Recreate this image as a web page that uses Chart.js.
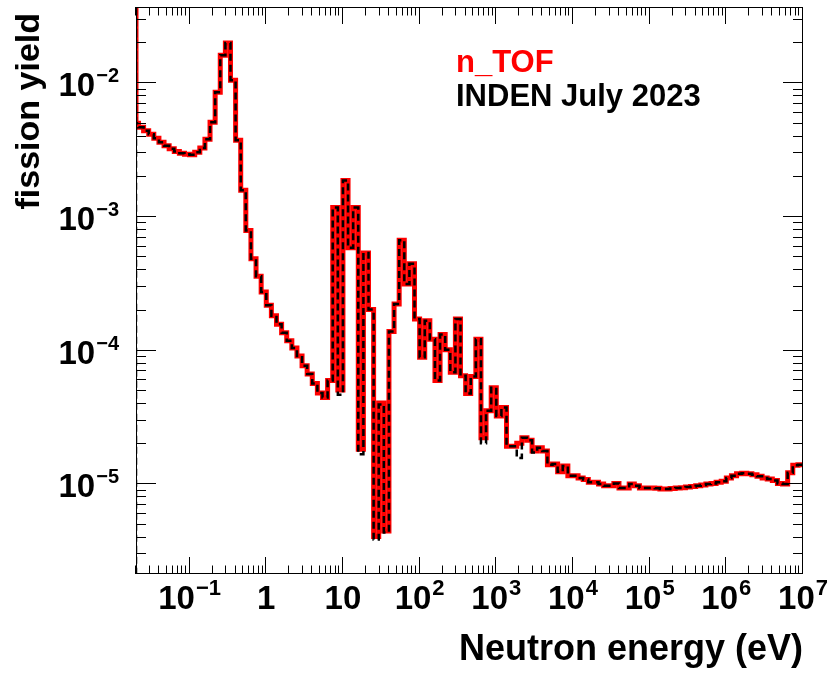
<!DOCTYPE html>
<html>
<head>
<meta charset="utf-8">
<script src="https://cdn.jsdelivr.net/npm/chart.js@4.4.0/dist/chart.umd.min.js"></script>
<style>
  html, body { margin: 0; padding: 0; background: #fff; }
  #wrap { width: 829px; height: 673px; }
</style>
</head>
<body>
<div id="wrap"><canvas id="yield-chart" width="829" height="673"></canvas></div>
<script>
// Histogram binning: 15 log bins per decade, first partial bin starts at 0.02 eV
const energyMin = 0.02;
const energyMax = 1e7;
const binsPerDecade = 15;
const firstEdgeIndex = -25;   // 10^(-25/15) eV
const lastEdgeIndex = 105;    // 10^(105/15) = 1e7 eV

// fission yield per bin, n_TOF
const ntofYield = [
  4.96e-3,
  4.63e-3, 4.35e-3, 4.09e-3, 3.82e-3, 3.57e-3, 3.36e-3, 3.19e-3, 3.05e-3, 2.95e-3, 2.90e-3,
  2.88e-3, 3.00e-3, 3.24e-3, 3.76e-3, 5.04e-3, 8.46e-3, 1.60e-2, 1.97e-2, 1.04e-2, 3.70e-3,
  1.56e-3, 7.8e-4, 4.8e-4, 3.55e-4, 2.7e-4,
  2.15e-4, 1.8e-4, 1.55e-4, 1.34e-4, 1.17e-4, 1.03e-4, 9.0e-5, 7.6e-5, 6.6e-5, 5.6e-5,
  4.75e-5, 4.4e-5, 5.9e-5, 1.16e-3, 5.0e-5,
  1.85e-3, 5.8e-4, 1.16e-3, 1.8e-5, 5.3e-4, 2.0e-4, 4.0e-6, 4.0e-5, 4.4e-6, 1.37e-4,
  2.2e-4, 6.6e-4, 3.1e-4, 4.4e-4, 1.7e-4,
  8.8e-5, 1.65e-4, 1.2e-4, 5.9e-5, 1.3e-4, 1.0e-4, 6.8e-5, 1.7e-4, 6.4e-5, 4.7e-5,
  6.3e-5, 1.2e-4, 2.2e-5, 3.5e-5, 5.2e-5,
  3.2e-5, 3.7e-5, 1.9e-5, 1.9e-5, 2.0e-5, 2.2e-5, 2.1e-5, 1.75e-5, 1.85e-5, 1.75e-5,
  1.38e-5, 1.4e-5, 1.22e-5, 1.35e-5, 1.14e-5,
  1.14e-5, 1.1e-5, 1.07e-5, 1.02e-5, 1.02e-5, 9.9e-6, 9.6e-6, 9.6e-6, 1.0e-5, 9.25e-6,
  9.25e-6, 9.9e-6, 9.6e-6, 9.25e-6, 9.25e-6,
  9.25e-6, 9.2e-6, 9.1e-6, 9.1e-6, 9.15e-6, 9.25e-6, 9.3e-6, 9.4e-6, 9.5e-6, 9.6e-6,
  9.75e-6, 9.9e-6, 1.0e-5, 1.02e-5, 1.04e-5,
  1.1e-5, 1.14e-5, 1.18e-5, 1.19e-5, 1.18e-5, 1.16e-5, 1.13e-5, 1.1e-5, 1.08e-5, 1.05e-5,
  1.0e-5, 9.9e-6, 1.2e-5, 1.37e-5, 1.38e-5
];

// fission yield per bin, INDEN July 2023
const indenYield = [
  4.96e-3,
  4.63e-3, 4.35e-3, 4.09e-3, 3.82e-3, 3.57e-3, 3.36e-3, 3.19e-3, 3.05e-3, 2.95e-3, 2.90e-3,
  2.88e-3, 3.00e-3, 3.24e-3, 3.76e-3, 5.04e-3, 8.46e-3, 1.60e-2, 1.97e-2, 1.04e-2, 3.70e-3,
  1.56e-3, 7.8e-4, 4.8e-4, 3.55e-4, 2.7e-4,
  2.15e-4, 1.8e-4, 1.55e-4, 1.34e-4, 1.17e-4, 1.03e-4, 9.0e-5, 7.6e-5, 6.6e-5, 5.6e-5,
  4.75e-5, 4.4e-5, 5.9e-5, 1.16e-3, 4.6e-5,
  1.85e-3, 5.8e-4, 1.16e-3, 1.65e-5, 5.3e-4, 2.0e-4, 3.8e-6, 3.9e-5, 4.3e-6, 1.37e-4,
  2.2e-4, 6.6e-4, 3.1e-4, 4.4e-4, 1.7e-4,
  8.8e-5, 1.65e-4, 1.2e-4, 5.9e-5, 1.3e-4, 1.0e-4, 6.8e-5, 1.7e-4, 6.4e-5, 4.7e-5,
  6.3e-5, 1.2e-4, 2.0e-5, 3.5e-5, 5.2e-5,
  3.2e-5, 3.7e-5, 1.9e-5, 1.9e-5, 1.55e-5, 2.2e-5, 2.1e-5, 1.7e-5, 1.85e-5, 1.75e-5,
  1.38e-5, 1.4e-5, 1.22e-5, 1.35e-5, 1.14e-5,
  1.14e-5, 1.1e-5, 1.07e-5, 1.02e-5, 1.02e-5, 9.9e-6, 9.6e-6, 9.6e-6, 1.0e-5, 9.25e-6,
  9.25e-6, 9.9e-6, 9.6e-6, 9.25e-6, 9.25e-6,
  9.25e-6, 9.2e-6, 9.1e-6, 9.1e-6, 9.15e-6, 9.25e-6, 9.3e-6, 9.4e-6, 9.5e-6, 9.6e-6,
  9.75e-6, 9.9e-6, 1.0e-5, 1.02e-5, 1.04e-5,
  1.1e-5, 1.14e-5, 1.18e-5, 1.19e-5, 1.18e-5, 1.16e-5, 1.13e-5, 1.1e-5, 1.08e-5, 1.05e-5,
  1.0e-5, 9.9e-6, 1.2e-5, 1.37e-5, 1.38e-5
];

// values just below 0.02 eV (off the top / bottom of the frame)
const ntofBelowRange = [0.05];
const indenBelowRange = [1e-7, 0.05];

const yieldMin = 2.1e-6;
const yieldMax = 3.67e-2;

const xTickValues = [0.1, 1, 10, 100, 1e3, 1e4, 1e5, 1e6, 1e7];
const xTickLabels = ['10^\u22121', '1', '10', '10^2', '10^3', '10^4', '10^5', '10^6', '10^7'];
const yTickValues = [1e-5, 1e-4, 1e-3, 1e-2];
const yTickLabels = ['10^\u22125', '10^\u22124', '10^\u22123', '10^\u22122'];

const xTitle = 'Neutron energy (eV)';
const yTitle = 'fission yield';
const legendLines = [
  { text: 'n_TOF', color: '#ff0000' },
  { text: 'INDEN July 2023', color: '#000000' }
];

// bin edges
const binEdges = [energyMin];
for (let k = firstEdgeIndex; k <= lastEdgeIndex; k++) {
  binEdges.push(Math.pow(10, k / binsPerDecade));
}

function histPoints(values, below) {
  const pts = below.map(v => ({ x: binEdges[0], y: v }));
  values.forEach((v, i) => pts.push({ x: binEdges[i], y: v }));
  pts.push({ x: binEdges[values.length], y: values[values.length - 1] });
  return pts;
}

const FONT = '"Liberation Sans", Arial, Helvetica, sans-serif';

function drawPowerLabel(ctx, label, x, y, align, expSize) {
  const parts = label.split('^');
  ctx.font = 'bold 33px ' + FONT;
  const wBase = ctx.measureText(parts[0]).width;
  let wExp = 0;
  if (parts[1]) {
    ctx.font = 'bold ' + expSize + 'px ' + FONT;
    wExp = ctx.measureText(parts[1]).width + 1;
  }
  const total = wBase + wExp;
  let start = x - total / 2;
  if (align === 'right') start = x - total;
  ctx.textAlign = 'left';
  ctx.textBaseline = 'alphabetic';
  ctx.font = 'bold 33px ' + FONT;
  ctx.fillText(parts[0], start, y);
  if (parts[1]) {
    ctx.font = 'bold ' + expSize + 'px ' + FONT;
    ctx.fillText(parts[1], start + wBase + 1, y - 14);
  }
}

const rootFrame = {
  id: 'rootFrame',
  afterDatasetsDraw(chart) {
    const { ctx, chartArea: a, scales: { x, y } } = chart;
    ctx.save();
    ctx.strokeStyle = '#000';
    ctx.lineWidth = 1;
    ctx.strokeRect(a.left + 0.5, a.top + 0.5, a.right - a.left - 1, a.bottom - a.top - 1);

    ctx.beginPath();
    // x ticks, bottom and top, pointing inward
    for (let d = -2; d <= 7; d++) {
      for (let m = 1; m <= 9; m++) {
        const v = m * Math.pow(10, d);
        if (v < energyMin || v > energyMax) continue;
        const px = Math.round(x.getPixelForValue(v)) - 0.5;
        const len = m === 1 ? 17 : 8.5;
        ctx.moveTo(px, a.bottom);
        ctx.lineTo(px, a.bottom - len);
        ctx.moveTo(px, a.top);
        ctx.lineTo(px, a.top + len);
      }
    }
    // y ticks, left and right
    for (let d = -6; d <= -1; d++) {
      for (let m = 1; m <= 9; m++) {
        const v = m * Math.pow(10, d);
        if (v < yieldMin || v > yieldMax) continue;
        const py = Math.round(y.getPixelForValue(v)) + 0.5;
        const len = m === 1 ? 20 : 10;
        ctx.moveTo(a.left, py);
        ctx.lineTo(a.left + len, py);
        ctx.moveTo(a.right, py);
        ctx.lineTo(a.right - len, py);
      }
    }
    ctx.stroke();
    ctx.restore();
  },
  afterDraw(chart) {
    const { ctx, chartArea: a, scales: { x, y } } = chart;
    ctx.save();
    ctx.fillStyle = '#000';
    xTickValues.forEach((v, i) => {
      drawPowerLabel(ctx, xTickLabels[i], x.getPixelForValue(v), 609, 'center', 22);
    });
    yTickValues.forEach((v, i) => {
      drawPowerLabel(ctx, yTickLabels[i], 119, y.getPixelForValue(v) + 14, 'right', 20);
    });

    // axis titles
    ctx.font = 'bold 36px ' + FONT;
    ctx.textAlign = 'right';
    ctx.textBaseline = 'alphabetic';
    ctx.fillText(xTitle, a.right, 660);

    ctx.save();
    ctx.font = 'bold 34px ' + FONT;
    ctx.translate(39, a.top + 6);
    ctx.rotate(-Math.PI / 2);
    ctx.textAlign = 'right';
    ctx.fillText(yTitle, 0, 0);
    ctx.restore();

    // text legend
    ctx.font = 'bold 31px ' + FONT;
    ctx.textAlign = 'left';
    legendLines.forEach((l, i) => {
      ctx.fillStyle = l.color;
      ctx.fillText(l.text, 456, 72 + i * 34);
    });
    ctx.restore();
  }
};

const ctx = document.getElementById('yield-chart').getContext('2d');
new Chart(ctx, {
  type: 'line',
  data: {
    datasets: [
      {
        label: 'INDEN July 2023',
        data: histPoints(indenYield, indenBelowRange),
        borderColor: '#000000',
        borderWidth: 2.5,
        borderDash: [7, 4],
        stepped: 'before',
        pointRadius: 0,
        fill: false,
        clip: 0,
        order: 0
      },
      {
        label: 'n_TOF',
        data: histPoints(ntofYield, ntofBelowRange),
        borderColor: '#ff0000',
        borderWidth: 5,
        stepped: 'before',
        pointRadius: 0,
        fill: false,
        clip: 0,
        order: 1
      }
    ]
  },
  options: {
    responsive: false,
    animation: false,
    parsing: false,
    normalized: true,
    layout: { padding: { left: 136, right: 26, top: 7, bottom: 99 } },
    scales: {
      x: { type: 'logarithmic', min: energyMin, max: energyMax, display: false },
      y: { type: 'logarithmic', min: yieldMin, max: yieldMax, display: false }
    },
    plugins: {
      legend: { display: false },
      tooltip: { enabled: false }
    }
  },
  plugins: [rootFrame]
});
</script>
</body>
</html>
